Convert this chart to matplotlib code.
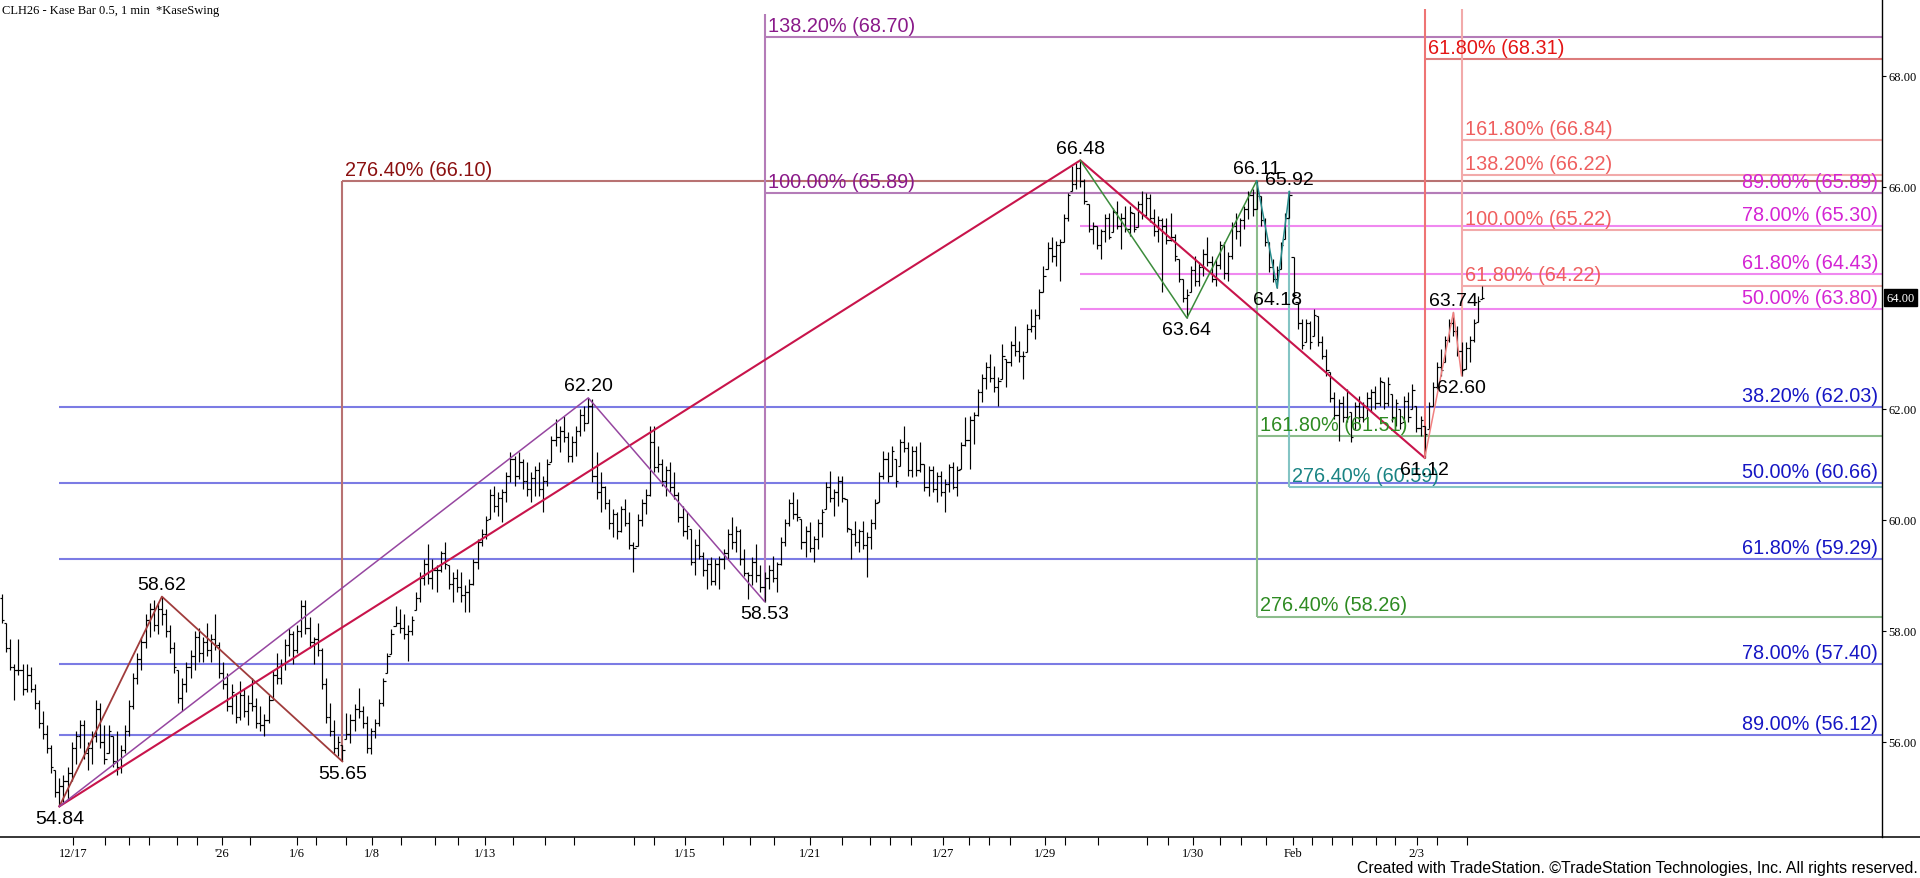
import numpy as np
import matplotlib
matplotlib.use('Agg')
import matplotlib.pyplot as plt
from matplotlib.collections import LineCollection
from matplotlib.lines import Line2D

plt.rcParams['font.family'] = ['Liberation Sans', 'DejaVu Sans']

# ---- bar data (Kase bars) ----
highs = [
    58.67, 58.15, 57.85, 57.40, 57.85, 57.40, 57.40, 57.35, 57.05, 56.75, 56.55, 56.30, 55.95, 55.50, 55.35,
    55.40, 55.55, 56.00, 56.20, 56.40, 56.40, 56.00, 56.20, 56.75, 56.70, 56.30, 56.30, 56.10, 56.20, 55.95,
    56.30, 56.75, 57.25, 57.60, 57.90, 58.30, 58.50, 58.55, 58.50, 58.62,
    58.40, 58.10, 57.80, 57.30, 57.15, 57.45, 57.65, 58.00, 58.05, 57.90, 58.15, 57.95, 58.30, 57.80, 57.45,
    57.25, 57.05, 56.85, 57.10, 56.95, 56.85, 57.15, 56.80, 56.65, 56.50, 56.85, 57.30, 57.60, 57.50, 57.85,
    58.05, 58.00, 58.10, 58.55, 58.55, 58.25, 57.90, 58.15, 57.70, 57.15, 56.70, 56.40, 56.10, 55.95,
    56.53, 56.50, 56.68, 56.98, 56.65, 56.47, 56.26, 56.41, 56.77, 57.16, 57.61, 58.03, 58.45, 58.39, 58.31,
    58.10, 58.27, 58.70, 59.06, 59.30, 59.57, 59.30, 59.18, 59.45, 59.60, 59.18, 59.06, 59.12, 59.06, 58.82,
    58.94, 59.30, 59.66, 59.84, 60.08, 60.56, 60.62, 60.50, 60.56, 60.86, 61.22, 61.16, 61.22, 61.10, 61.04,
    60.86, 60.98, 61.04, 60.80, 61.10, 61.52, 61.82, 61.70, 61.88, 61.58, 61.52, 61.70, 62.00, 62.05, 62.20,
    62.18, 61.22, 60.86, 60.62, 60.38, 60.20, 60.14, 60.26, 60.38, 60.14, 59.60, 60.10, 60.38, 60.55, 61.70,
    61.70, 61.34, 61.10, 60.98, 61.04, 60.86, 60.50, 60.26, 60.14, 59.84, 59.66, 59.84, 59.42, 59.30, 59.33,
    59.30, 59.36, 59.48, 59.84, 60.05, 59.90, 59.84, 59.48, 59.06, 59.33, 59.57, 59.18, 59.06,
    59.18, 59.36, 59.24, 59.69, 60.02, 60.38, 60.50, 60.38, 60.02, 59.90, 59.96, 59.72, 60.02, 60.20, 60.68,
    60.89, 60.56, 60.80, 60.80, 60.38, 59.84, 59.99, 59.84, 59.99, 59.78, 60.02, 60.38, 60.86, 61.25, 61.22,
    61.34, 61.10, 61.46, 61.70, 61.40, 61.34, 61.34, 61.40, 61.01, 60.98, 60.98, 60.86, 60.89, 60.74, 61.01,
    61.04, 60.98, 61.40, 61.85, 61.88, 61.94, 62.36, 62.63, 62.84, 62.99, 62.78, 62.57, 63.17, 62.90, 63.23,
    63.50, 63.23, 63.05, 63.53, 63.80, 63.80, 64.16, 64.58, 65.00, 65.09, 65.03, 65.06, 65.51, 65.90, 66.38,
    66.44, 66.48,
    66.14, 65.69, 65.36, 65.30, 65.24, 65.51, 65.54, 65.63, 65.75, 65.54, 65.66, 65.66, 65.54, 65.75, 65.93,
    65.90, 65.87, 65.60, 65.48, 65.45, 65.45, 65.54, 65.15, 64.70, 64.34, 64.16,
    64.58, 64.76, 64.64, 64.88, 65.09, 64.76, 64.70, 65.03, 65.00, 64.82, 65.36, 65.54, 65.45, 65.66, 65.93,
    65.96, 66.11,
    65.84, 65.45, 65.00, 64.70, 64.58, 65.00, 65.54, 65.92,
    64.73, 63.92, 63.62, 63.62, 63.59, 63.80, 63.68, 63.32, 63.08, 62.66, 62.30, 62.18, 62.24, 62.36, 61.94,
    62.12, 62.24, 62.12, 62.30, 62.36, 62.42, 62.57, 62.48, 62.57, 62.27, 62.18, 62.00, 62.24, 62.30, 62.45,
    62.06, 61.88, 61.70,
    62.12, 62.48, 62.84, 63.08, 63.32, 63.62, 63.74, 63.50, 63.20, 63.20, 63.32, 63.62, 64.04, 64.22,
]
lows = [
    58.15, 57.62, 57.30, 56.75, 57.20, 56.85, 56.90, 56.90, 56.60, 56.25, 56.05, 55.80, 55.45, 55.00, 54.84,
    54.90, 54.95, 55.30, 55.60, 55.90, 55.70, 55.50, 55.60, 56.00, 55.90, 55.60, 55.80, 55.55, 55.40, 55.45,
    55.80, 56.10, 56.60, 57.05, 57.30, 57.70, 57.90, 58.00, 57.95, 58.10,
    57.90, 57.60, 57.25, 56.70, 56.55, 56.90, 57.15, 57.30, 57.45, 57.45, 57.55, 57.45, 57.65, 57.15, 56.95,
    56.55, 56.50, 56.35, 56.40, 56.45, 56.30, 56.55, 56.25, 56.20, 56.10, 56.35, 56.75, 57.05, 57.05, 57.30,
    57.55, 57.40, 57.60, 57.90, 57.95, 57.70, 57.40, 57.55, 56.95, 56.35, 56.10, 55.80, 55.75, 55.65,
    56.05, 55.99, 56.20, 56.44, 56.26, 55.81, 55.78, 56.08, 56.29, 56.65, 57.25, 57.58, 58.09, 57.97, 57.85,
    57.46, 57.92, 58.37, 58.52, 58.82, 58.85, 58.76, 58.70, 59.06, 59.12, 58.76, 58.52, 58.70, 58.52, 58.34,
    58.34, 58.82, 59.12, 59.54, 59.66, 60.02, 60.14, 60.08, 59.96, 60.32, 60.68, 60.62, 60.74, 60.56, 60.44,
    60.32, 60.44, 60.44, 60.14, 60.62, 61.04, 61.34, 61.22, 61.40, 61.04, 61.04, 61.16, 61.52, 61.60, 61.75,
    60.68, 60.38, 60.14, 60.20, 59.84, 59.69, 59.66, 59.78, 59.90, 59.48, 59.06, 59.53, 59.90, 60.10, 60.44,
    60.86, 60.86, 60.62, 60.44, 60.50, 60.38, 59.96, 59.72, 59.66, 59.18, 59.00, 59.30, 58.99, 58.76, 58.82,
    58.82, 58.76, 59.12, 59.30, 59.48, 59.42, 59.18, 58.99, 58.58, 58.82, 58.88, 58.70, 58.53,
    58.76, 58.88, 58.70, 59.18, 59.54, 59.90, 60.02, 59.99, 59.48, 59.33, 59.42, 59.24, 59.48, 59.69, 60.20,
    60.32, 60.08, 60.26, 60.32, 59.78, 59.30, 59.54, 59.42, 59.48, 58.97, 59.48, 59.84, 60.32, 60.74, 60.68,
    60.80, 60.59, 60.98, 61.22, 60.80, 60.77, 60.80, 60.86, 60.53, 60.44, 60.50, 60.32, 60.44, 60.14, 60.50,
    60.56, 60.44, 60.92, 61.34, 60.92, 61.37, 61.88, 62.12, 62.36, 62.48, 62.30, 62.06, 62.54, 62.39, 62.78,
    62.96, 62.84, 62.54, 63.02, 63.38, 63.26, 63.62, 64.10, 64.52, 64.64, 64.58, 64.31, 65.00, 65.39, 65.93,
    65.96, 66.00,
    65.69, 65.18, 64.97, 64.88, 64.70, 65.00, 65.06, 65.18, 65.24, 64.88, 65.18, 65.12, 65.18, 65.27, 65.42,
    65.48, 65.36, 65.12, 65.00, 64.10, 64.97, 65.03, 64.67, 64.28, 63.92, 63.64,
    64.10, 64.22, 64.22, 64.40, 64.58, 64.28, 64.22, 64.52, 64.34, 64.31, 64.70, 65.06, 64.94, 65.24, 65.42,
    65.48, 65.60,
    65.30, 64.94, 64.46, 64.28, 64.18, 64.52, 65.06, 65.45,
    63.98, 63.44, 63.08, 63.20, 63.08, 63.32, 63.14, 62.90, 62.60, 62.12, 61.82, 61.43, 61.76, 61.76, 61.40,
    61.64, 61.76, 61.76, 61.82, 61.94, 62.00, 62.06, 62.00, 62.06, 61.76, 61.70, 61.64, 61.76, 61.76, 62.00,
    61.58, 61.52, 61.12,
    61.64, 62.06, 62.36, 62.60, 62.84, 63.20, 63.32, 62.96, 62.60, 62.72, 62.84, 63.20, 63.56, 63.98,
]
closes = [
    58.20, 57.70, 57.35, 57.30, 57.30, 56.95, 57.20, 56.95, 56.70, 56.35, 56.15, 55.90, 55.55, 55.10, 55.20,
    55.30, 55.45, 55.90, 56.10, 56.30, 55.80, 55.90, 56.10, 56.60, 56.00, 55.70, 56.20, 55.65, 55.55, 55.85,
    56.20, 56.65, 57.15, 57.50, 57.80, 58.20, 58.40, 58.10, 58.40, 58.30,
    58.00, 57.70, 57.35, 56.80, 57.05, 57.35, 57.55, 57.90, 57.60, 57.80, 57.65, 57.85, 57.75, 57.25, 57.05,
    56.65, 56.90, 56.45, 56.85, 56.55, 56.70, 56.65, 56.35, 56.30, 56.40, 56.75, 57.20, 57.15, 57.40, 57.75,
    57.95, 57.65, 58.00, 58.45, 58.05, 57.80, 57.85, 57.65, 57.05, 56.45, 56.20, 55.90, 56.00, 55.85,
    56.15, 56.40, 56.60, 56.55, 56.35, 55.90, 56.20, 56.35, 56.70, 57.10, 57.55, 57.95, 58.15, 58.05, 57.95,
    58.00, 58.20, 58.60, 58.95, 59.20, 58.95, 59.10, 59.10, 59.40, 59.20, 58.85, 58.95, 58.80, 58.65, 58.70,
    58.85, 59.25, 59.60, 59.75, 60.00, 60.45, 60.25, 60.40, 60.50, 60.80, 61.10, 60.80, 61.05, 60.70, 60.55,
    60.75, 60.90, 60.55, 60.70, 61.00, 61.45, 61.50, 61.60, 61.50, 61.15, 61.40, 61.60, 61.90, 61.75, 62.05,
    60.80, 60.50, 60.60, 60.30, 59.95, 60.10, 59.80, 60.20, 59.95, 59.55, 59.50, 60.00, 60.30, 60.45, 61.40,
    60.95, 61.00, 60.70, 60.90, 60.60, 60.45, 60.05, 59.80, 59.90, 59.25, 59.55, 59.35, 59.10, 59.20, 58.90,
    59.20, 59.30, 59.40, 59.75, 59.60, 59.80, 59.30, 59.05, 59.00, 59.25, 59.00, 58.80, 58.95,
    59.10, 58.95, 59.20, 59.60, 59.95, 60.30, 60.10, 60.05, 59.60, 59.80, 59.50, 59.65, 59.95, 60.15, 60.60,
    60.40, 60.50, 60.70, 60.40, 59.85, 59.75, 59.60, 59.80, 59.55, 59.70, 59.95, 60.30, 60.80, 61.10, 60.80,
    61.25, 60.70, 61.40, 61.30, 60.90, 61.25, 60.90, 61.00, 60.60, 60.90, 60.55, 60.80, 60.50, 60.65, 60.95,
    60.60, 60.90, 61.35, 61.45, 61.80, 61.90, 62.30, 62.55, 62.75, 62.55, 62.40, 62.50, 62.95, 62.85, 63.15,
    63.05, 62.95, 62.95, 63.45, 63.50, 63.70, 64.10, 64.40, 64.90, 64.75, 64.95, 65.00, 65.45, 65.85, 66.05,
    66.35, 66.10,
    65.75, 65.25, 65.30, 64.95, 65.20, 65.45, 65.10, 65.55, 65.30, 65.45, 65.25, 65.55, 65.25, 65.70, 65.50,
    65.80, 65.45, 65.20, 65.40, 65.30, 65.05, 65.10, 64.75, 64.35, 64.00, 64.05,
    64.50, 64.30, 64.55, 64.80, 64.65, 64.35, 64.60, 64.95, 64.45, 64.75, 65.30, 65.20, 65.40, 65.60, 65.85,
    65.60, 65.90,
    65.40, 65.00, 64.55, 64.35, 64.50, 64.95, 65.45, 65.85,
    64.05, 63.55, 63.15, 63.55, 63.20, 63.70, 63.20, 62.95, 62.70, 62.20, 61.90, 62.10, 61.85, 62.30, 61.50,
    62.05, 61.85, 62.05, 62.20, 62.30, 62.10, 62.50, 62.10, 62.45, 61.85, 62.10, 61.75, 62.15, 61.85, 62.35,
    61.65, 61.80, 61.55,
    62.05, 62.40, 62.75, 62.70, 63.25, 63.55, 63.40, 63.05, 62.70, 63.10, 63.25, 63.55, 63.95, 64.00,
]

# swing points (bar index, 'H' high / 'L' low)
swing_bars = [14, 39, 83, 143, 186, 263, 289, 306, 311, 314, 347, 354, 356]
swing_kind = ['L', 'H', 'L', 'H', 'L', 'H', 'L', 'H', 'L', 'H', 'L', 'H', 'L']

# KaseSwing zigzags (bar indexes of the swing points they connect)
zz_brown = [14, 39, 83]
zz_crimson = [14, 263, 347]
zz_purple = [14, 143, 186]
zz_green = [263, 289, 306]
zz_teal = [306, 311, 314]
zz_salmon = [347, 354, 356]

# fib levels
blue_pcts = ['38.20%', '50.00%', '61.80%', '78.00%', '89.00%']
blue_levels = [62.03, 60.66, 59.29, 57.40, 56.12]
magenta_pcts = ['89.00%', '78.00%', '61.80%', '50.00%']
magenta_levels = [65.89, 65.30, 64.43, 63.80]
salmon_pcts = ['161.80%', '138.20%', '100.00%', '61.80%']
salmon_levels = [66.84, 66.22, 65.22, 64.22]
red_pcts = ['61.80%']
red_levels = [68.31]
purple_pcts = ['138.20%', '100.00%']
purple_levels = [68.70, 65.89]
brown_pcts = ['276.40%']
brown_levels = [66.10]
green_pcts = ['161.80%', '276.40%']
green_levels = [61.51, 58.26]
teal_pcts = ['276.40%']
teal_levels = [60.59]

# time axis (bar positions of session marks)
date_labels = ['12/17', "'26", '1/6', '1/8', '1/13', '1/15', '1/21', '1/27', '1/29', '1/30', 'Feb', '2/3']
date_bars = [17.4, 53.6, 71.9, 90.3, 117.8, 166.5, 197.0, 229.5, 254.3, 290.4, 314.9, 345.1]
session_bars = [25.2, 30.9, 35.8, 42.8, 47.6, 60.5, 76.7, 83.9, 97.3, 105.6, 111.1, 124.7, 132.4, 139.5,
                154.1, 159.0, 175.8, 182.5, 188.4, 204.9, 211.6, 216.6, 221.6, 235.9, 240.8, 245.9,
                259.3, 267.3, 279.2, 284.4, 297.1, 302.3, 308.3, 319.5, 324.5, 329.2, 335.2, 339.7,
                349.9, 357.3]
price_ticks = [56, 58, 60, 62, 66, 68]

# ---- figure ----
W, H = 1920, 879
fig = plt.figure(figsize=(W / 100, H / 100), dpi=100)
fig.patch.set_facecolor('white')
ax = fig.add_axes([0, 41 / H, 1882 / W, 838 / H])
XMAX = 1880 / 4.1
ax.set_xlim(-2 / 4.1, XMAX)
ax.set_ylim(54.288, 69.387)

for s in ['top', 'left', 'bottom']:
    ax.spines[s].set_visible(False)
ax.spines['right'].set_linewidth(1.0)

hi = np.array(highs)
lo = np.array(lows)
cl = np.clip(np.array(closes), lo, hi)
op = np.clip(np.concatenate([[58.60], cl[:-1]]), lo, hi)
xs = np.arange(len(hi))

segs = []
for x, h, l, o, c in zip(xs, hi, lo, op, cl):
    segs.append([(x, l), (x, h)])
    segs.append([(x - 0.55, o), (x, o)])
    segs.append([(x, c), (x + 0.55, c)])
ax.add_collection(LineCollection(segs, colors='black', linewidths=0.85, zorder=3))


def swing_price(i):
    return hi[i] if swing_kind[swing_bars.index(i)] == 'H' else lo[i]


def fib_group(levels, pcts, start, line_c, text_c, side):
    for lvl, pct in zip(levels, pcts):
        ax.hlines(lvl, start, XMAX, color=line_c, lw=1.5, zorder=1)
        txt = f'{pct} ({lvl:.2f})'
        if side == 'right':
            ax.annotate(txt, xy=(1878 / 1882, lvl), xycoords=ax.get_yaxis_transform(),
                        xytext=(0, 1.6), textcoords='offset points', ha='right', va='bottom',
                        color=text_c, fontsize=14.3, zorder=5)
        else:
            ax.annotate(txt, xy=(start, lvl), xytext=(2.2, 1.6), textcoords='offset points',
                        ha='left', va='bottom', color=text_c, fontsize=14.3, zorder=5)


fib_group(blue_levels, blue_pcts, 14, '#7b7be4', '#1616c4', 'right')
fib_group(magenta_levels, magenta_pcts, 263, '#f088f0', '#d424d4', 'right')
fib_group(purple_levels, purple_pcts, 186, '#b47cb8', '#8a1a8a', 'left')
fib_group(brown_levels, brown_pcts, 83, '#b87272', '#8b1010', 'left')
fib_group(green_levels, green_pcts, 306, '#8cbc8c', '#2e8b22', 'left')
fib_group(teal_levels, teal_pcts, 314, '#84c4c4', '#1a8484', 'left')
fib_group(red_levels, red_pcts, 347, '#dc7c7c', '#e41414', 'left')
fib_group(salmon_levels, salmon_pcts, 356, '#f2aaaa', '#ef5f5f', 'left')

# vertical connectors from swing points to their projection levels
ax.vlines(83, swing_price(83), brown_levels[0], color='#b87272', lw=1.5, zorder=1)
ax.vlines(186, swing_price(186), 69.12, color='#b47cb8', lw=1.5, zorder=1)
ax.vlines(306, green_levels[-1], swing_price(306), color='#8cbc8c', lw=1.5, zorder=1)
ax.vlines(314, teal_levels[-1], swing_price(314), color='#84c4c4', lw=1.5, zorder=1)
ax.vlines(347, swing_price(347), 69.21, color='#ee7474', lw=1.5, zorder=1)
ax.vlines(356, swing_price(356), 69.21, color='#f2aaaa', lw=1.5, zorder=1)

# zigzag swing lines
for pts, col, lw in [(zz_brown, '#a03c3c', 1.3), (zz_crimson, '#c8144b', 1.5),
                     (zz_purple, '#9646a0', 1.1), (zz_green, '#3c8c3c', 1.1),
                     (zz_teal, '#288c8c', 1.1), (zz_salmon, '#f08080', 1.1)]:
    ax.plot(pts, [swing_price(i) for i in pts], color=col, lw=lw, zorder=4)

# swing value labels
for i, k in zip(swing_bars, swing_kind):
    if k == 'H':
        ax.annotate(f'{hi[i]:.2f}', xy=(i, hi[i]), xytext=(0, 2.5), textcoords='offset points',
                    ha='center', va='bottom', fontsize=14, color='black', zorder=6)
    else:
        ax.annotate(f'{lo[i]:.2f}', xy=(i, lo[i]), xytext=(0, -2.5), textcoords='offset points',
                    ha='center', va='top', fontsize=14, color='black', zorder=6)

# axes ticks
ax.yaxis.tick_right()
ax.set_yticks(price_ticks)
ax.set_yticklabels([f'{v:.2f}' for v in price_ticks])
ax.tick_params(axis='y', direction='out', length=3, width=0.8, pad=1.5, labelsize=9)
for t in ax.get_yticklabels():
    t.set_family('Liberation Serif')

ax.set_xticks(date_bars)
ax.set_xticklabels(date_labels)
ax.set_xticks(session_bars, minor=True)
ax.tick_params(axis='x', which='both', direction='out', length=5.5, width=0.8, pad=1.5, labelsize=9)
for t in ax.get_xticklabels():
    t.set_family('Liberation Serif')

# last price marker
ax.annotate(f'{cl[-1]:.2f}', xy=(1, cl[-1]), xycoords=ax.get_yaxis_transform(),
            xytext=(3, 0), textcoords='offset points', ha='left', va='center',
            color='white', fontsize=9, family='Liberation Serif', annotation_clip=False,
            bbox=dict(boxstyle='square,pad=0.2', fc='black', ec='black'), zorder=7)

# bottom axis line across the whole width
fig.add_artist(Line2D([0, 1], [41 / H, 41 / H], transform=fig.transFigure, color='black', lw=1.1))

fig.text(2 / W, 1 - 5 / H, 'CLH26 - Kase Bar 0.5, 1 min  *KaseSwing', ha='left', va='top',
         family='Liberation Serif', fontsize=9)
fig.text(1918 / W, 10 / H, 'Created with TradeStation. \u00a9TradeStation Technologies, Inc. All rights reserved.',
         ha='right', va='center', fontsize=11.4)

fig.savefig('out.png', dpi=100, facecolor='white')
